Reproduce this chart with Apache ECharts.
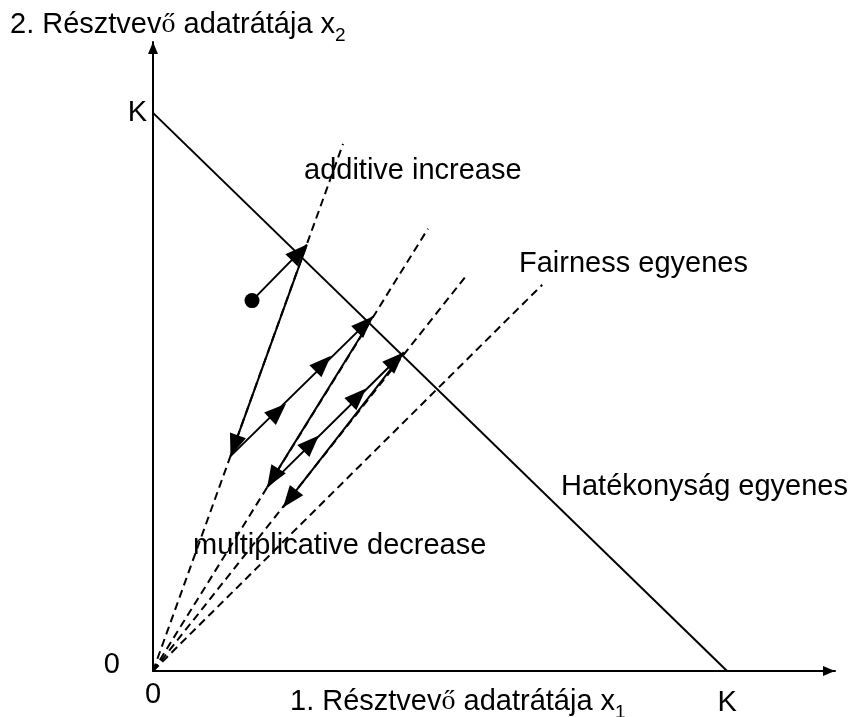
<!DOCTYPE html>
<html><head><meta charset="utf-8">
<script src="https://cdn.jsdelivr.net/npm/echarts@6/dist/echarts.min.js"></script>
<style>html,body{margin:0;padding:0;background:#fff}#c{width:853px;height:717px}</style>
</head><body><div id="c"></div>
<script>
// ---- data (units of capacity K) ----
const xMax = 1.188, yMax = 1.127;
const xTickLabels = ['0', 'K'];
const yTickLabels = ['0', 'K'];
const efficiencyLine = [[0, 1], [1, 0]];
const rayEnds = [[0.331, 0.9445], [0.479, 0.7925], [0.547, 0.710], [0.678, 0.692]];
const startPoint = [0.1725, 0.6637];
const trajectory = [[0.1725, 0.6637], [0.268, 0.764], [0.135, 0.385], [0.383, 0.635],
                    [0.1986, 0.329], [0.437, 0.571], [0.2265, 0.293]];
// mid-segment arrow tips: [x, y, index of segment start in trajectory]
const midArrowTips = [[0.2317, 0.479, 2], [0.310, 0.565, 2], [0.289, 0.422, 4], [0.371, 0.506, 4]];
const textTitleY = '2. Résztvev{s|ő} adatrátája x{sub|2}';
const textTitleX = '1. Résztvev{s|ő} adatrátája x{sub|1}';
const annotations = ['additive increase', 'Fairness egyenes', 'Hatékonyság egyenes', 'multiplicative decrease'];

// ---- build ----
const FONT = "'Liberation Sans', Arial, sans-serif";
const FS = 29;
const arrowData = [];
for (let i = 1; i < trajectory.length; i++) {
  arrowData.push([trajectory[i - 1][0], trajectory[i - 1][1], trajectory[i][0], trajectory[i][1]]);
}
midArrowTips.forEach(m => {
  const s = trajectory[m[2]];
  arrowData.push([s[0], s[1], m[0], m[1]]);
});
const axisArrowData = [[0, 0, xMax, 0], [0, 0, 0, yMax]];

function arrowRender(L, W) {
  return function (params, api) {
    const a = api.coord([api.value(0), api.value(1)]);
    const b = api.coord([api.value(2), api.value(3)]);
    const dx = b[0] - a[0], dy = b[1] - a[1];
    const len = Math.hypot(dx, dy) || 1;
    const ux = dx / len, uy = dy / len;
    const bx = b[0] - ux * L, by = b[1] - uy * L;
    return {
      type: 'polygon',
      shape: { points: [[b[0], b[1]], [bx - uy * W, by + ux * W], [bx + uy * W, by - ux * W]] },
      style: { fill: '#000' }
    };
  };
}

const rayData = rayEnds.map(e => [[0, 0], e]);
const solid = { color: '#000', width: 2 };
const dashed = { color: '#000', width: 2, type: [8, 5] };

const series = [];
rayData.forEach(d => series.push({ type: 'line', data: d, symbol: 'none', lineStyle: dashed, clip: false, silent: true }));
series.push({ type: 'line', data: efficiencyLine, symbol: 'none', lineStyle: solid, clip: false, silent: true });
series.push({ type: 'line', data: trajectory, symbol: 'none', lineStyle: solid, clip: false, silent: true });
series.push({ type: 'scatter', data: [startPoint], symbolSize: 15, itemStyle: { color: '#000', opacity: 1 }, silent: true });
series.push({ type: 'custom', data: arrowData, renderItem: arrowRender(22, 8.5), encode: { x: [0, 2], y: [1, 3] }, silent: true });
series.push({ type: 'custom', data: axisArrowData, renderItem: arrowRender(12, 5), encode: { x: [0, 2], y: [1, 3] }, silent: true });

const richSub = {
  s: { fontFamily: "'Liberation Serif', 'Times New Roman', serif", fontSize: 28, lineHeight: 40, fill: '#000', color: '#000' },
  sub: { fontFamily: FONT, fontSize: 19, lineHeight: 19, verticalAlign: 'bottom', color: '#000', fill: '#000' }
};
function txt(x, y, text) {
  return {
    type: 'text', x: x, y: y,
    style: { text: text, fontFamily: FONT, fontSize: FS, fill: '#000', verticalAlign: 'middle', align: 'left' }
  };
}
const titleStyle = (text) => ({ text: text, fontFamily: FONT, fontSize: FS, lineHeight: 40, fill: '#000', verticalAlign: 'middle', align: 'left', rich: richSub });

const chart = echarts.init(document.getElementById('c'), null, { renderer: 'canvas' });
chart.setOption({
  animation: false,
  backgroundColor: '#fff',
  grid: { left: 153, right: 18, top: 42, bottom: 45, containLabel: false },
  xAxis: {
    type: 'value', min: 0, max: xMax, interval: 1,
    splitLine: { show: false }, axisTick: { show: false },
    axisLine: { show: true, onZero: false, lineStyle: { color: '#000', width: 2 } },
    axisLabel: {
      showMaxLabel: false, margin: 9, color: '#000', fontFamily: FONT, fontSize: FS,
      formatter: v => v === 0 ? '{z|' + xTickLabels[0] + '}' : (v === 1 ? '{k|' + xTickLabels[1] + '}' : ''),
      rich: { z: { fontFamily: FONT, fontSize: FS, color: '#000' }, k: { fontFamily: FONT, fontSize: FS, color: '#000', padding: [8, 0, 0, 0] } }
    }
  },
  yAxis: {
    type: 'value', min: 0, max: yMax, interval: 1,
    splitLine: { show: false }, axisTick: { show: false },
    axisLine: { show: true, onZero: false, lineStyle: { color: '#000', width: 2 } },
    axisLabel: {
      showMaxLabel: false, margin: 6, color: '#000', fontFamily: FONT, fontSize: FS,
      formatter: v => v === 0 ? '{z|' + yTickLabels[0] + '}' : (v === 1 ? '{k|' + yTickLabels[1] + '}' : ''),
      rich: { z: { fontFamily: FONT, fontSize: FS, color: '#000', padding: [0, 27, 12, 0] }, k: { fontFamily: FONT, fontSize: FS, color: '#000' } }
    }
  },
  graphic: [
    { type: 'text', x: 10, y: 25, style: titleStyle(textTitleY) },
    { type: 'text', x: 290, y: 702, style: titleStyle(textTitleX) },
    txt(304, 171, annotations[0]),
    txt(519, 264, annotations[1]),
    txt(561, 487, annotations[2]),
    txt(193, 546, annotations[3])
  ],
  series: series
});
</script></body></html>
